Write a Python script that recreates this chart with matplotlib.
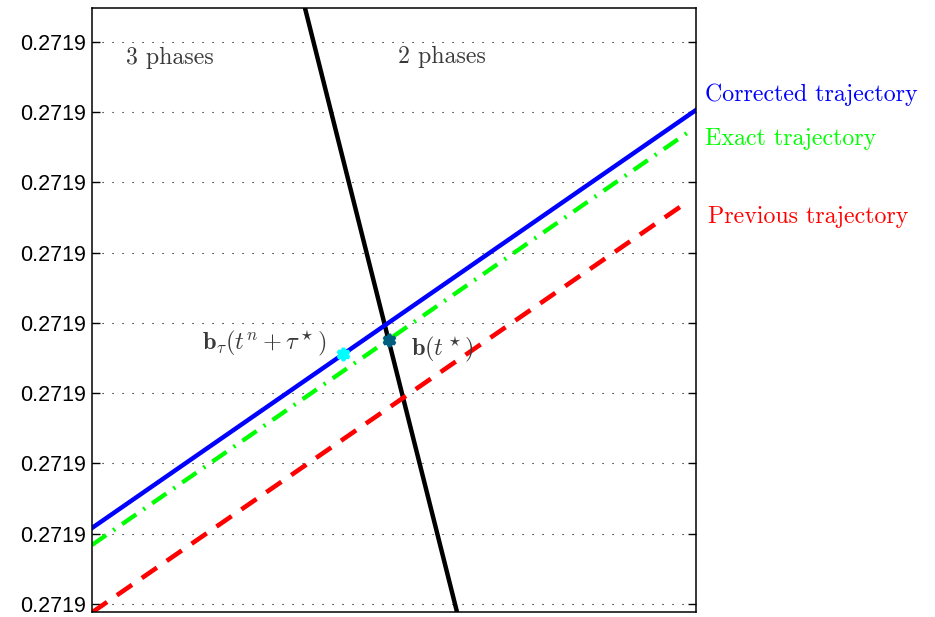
import matplotlib
matplotlib.use('Agg')
import matplotlib.pyplot as plt

plt.rcParams['mathtext.fontset'] = 'cm'
plt.rcParams['font.family'] = ['Liberation Sans', 'DejaVu Sans']

# y values are given in "tick units" (k), converted below
y0 = 0.27186
dy = 1e-5

# straight trajectories, two points each (x in [0, 1])
corrected_x = [0.0, 1.0]
corrected_k = [1.082, 7.032]
exact_x = [0.0, 0.99]
exact_k = [0.840, 6.733]
previous_x = [0.0, 0.985]
previous_k = [-0.12, 5.72]
# phase boundary
boundary_x = [0.3526, 0.6043]
boundary_k = [8.484, -0.114]

# intersection points
btau_x, btau_k = 0.4156, 3.559
bstar_x, bstar_k = 0.4917, 3.758

tick_k = [0, 1, 2, 3, 4, 5, 6, 7, 8]
tick_labels = ['0.2719'] * len(tick_k)


def to_y(ks):
    if isinstance(ks, (list, tuple)):
        return [y0 + k * dy for k in ks]
    return y0 + ks * dy


fig = plt.figure(figsize=(9.35, 6.17), dpi=100)
ax = fig.add_axes([92 / 935, 1 - 612 / 617, 604 / 935, 604 / 617])

# grid dotted lines
for k in tick_k:
    ax.axhline(to_y(k), color='black', lw=0.8, ls=(0, (1, 8)), zorder=0)

ax.plot(boundary_x, to_y(boundary_k), color='black', lw=3.2)
ax.plot(previous_x, to_y(previous_k), color='red', lw=3.3, ls=(0, (4, 2.6)))
ax.plot(exact_x, to_y(exact_k), color='#00ff00', lw=3.1, ls=(0, (4, 2, 0.5, 2)))
ax.plot(corrected_x, to_y(corrected_k), color='blue', lw=3.2)

ax.plot([btau_x], [to_y(btau_k)], marker=(6, 1, 0), ms=9, mew=2.5,
        color='cyan', zorder=5)
ax.plot([bstar_x], [to_y(bstar_k)], marker=(6, 1, 0), ms=9, mew=2.5,
        color='#005f80', zorder=5)

ax.set_xlim(0, 1)
ax.set_ylim(to_y(-0.114), to_y(8.484))
ax.set_xticks([])
ax.set_yticks(to_y(tick_k))
ax.set_yticklabels(tick_labels, fontsize=15.5)
ax.tick_params(axis='y', direction='in', length=6, right=True, width=1, pad=4)
for s in ax.spines.values():
    s.set_linewidth(1.1)

grey = '#3a3a3a'
fs = 17.2
ax.text(0.129, to_y(7.772), '3 phases', family='cmr10', fontsize=fs,
        color=grey, ha='center', va='center')
ax.text(0.579, to_y(7.787), '2 phases', family='cmr10', fontsize=fs,
        color=grey, ha='center', va='center')
ax.text(0.285, to_y(3.715), r'$\mathbf{b}_\tau(t^n+\tau^\star)$', fontsize=17.5,
        color=grey, ha='center', va='center')
ax.text(0.581, to_y(3.63), r'$\mathbf{b}(t^\star)$', fontsize=17.5,
        color=grey, ha='center', va='center')

ax.text(1.015, to_y(7.245), 'Corrected trajectory', family='cmr10', fontsize=fs,
        color='blue', ha='left', va='center', clip_on=False)
ax.text(1.015, to_y(6.619), 'Exact trajectory', family='cmr10', fontsize=fs,
        color='#00ff00', ha='left', va='center', clip_on=False)
ax.text(1.02, to_y(5.509), 'Previous trajectory', family='cmr10', fontsize=fs,
        color='red', ha='left', va='center', clip_on=False)

fig.savefig('out.png', dpi=100)
